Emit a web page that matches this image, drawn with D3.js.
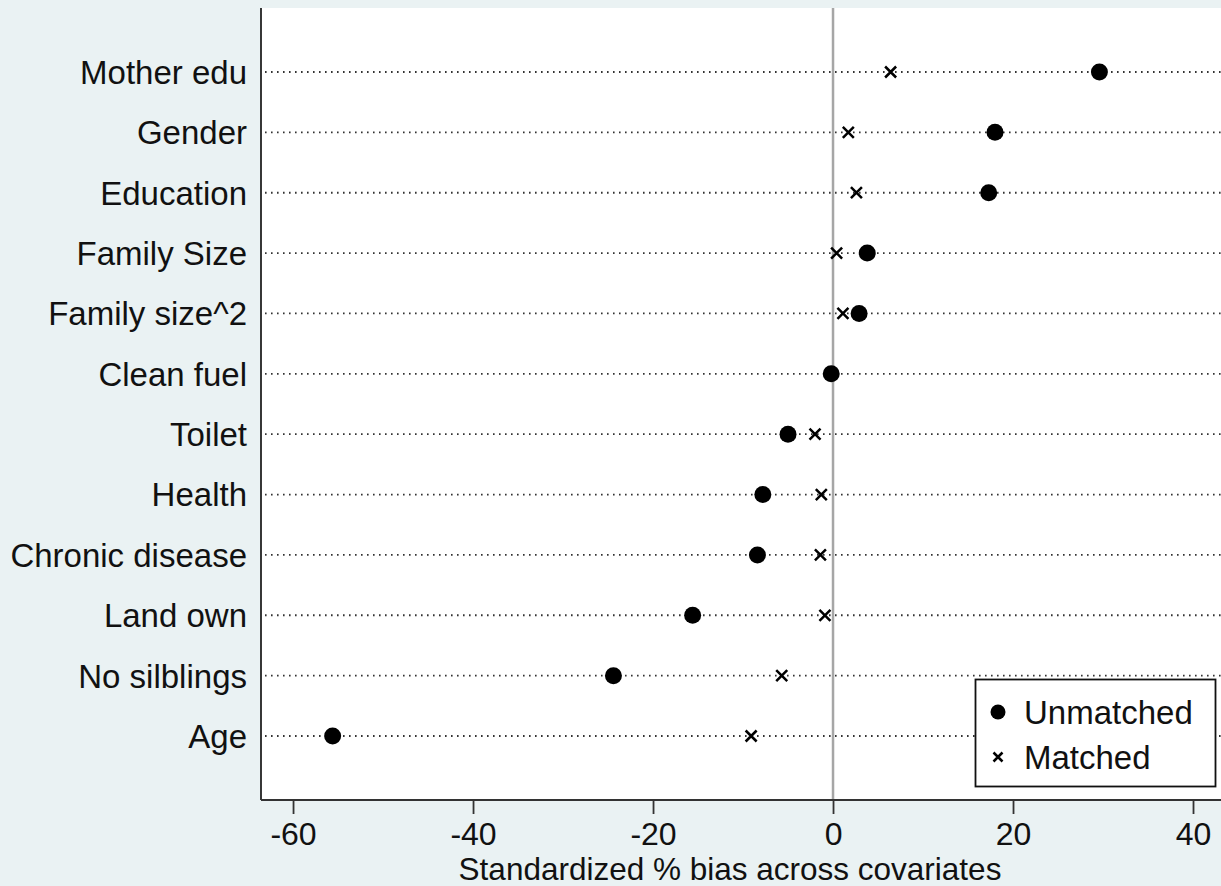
<!DOCTYPE html>
<html>
<head>
<meta charset="utf-8">
<script src="https://cdn.jsdelivr.net/npm/d3@7"></script>
<style>
  html, body { margin: 0; padding: 0; background: #eaf2f3; }
  svg { display: block; font-family: "Liberation Sans", Arial, sans-serif; }
</style>
</head>
<body>
<svg id="chart" width="1221" height="886"></svg>
<script>
// covariates, top to bottom
var covariates = ['Mother edu', 'Gender', 'Education', 'Family Size', 'Family size^2',
  'Clean fuel', 'Toilet', 'Health', 'Chronic disease', 'Land own', 'No silblings', 'Age'];
var unmatched = [29.6, 18.0, 17.3, 3.8, 2.9, -0.2, -5.0, -7.8, -8.4, -15.6, -24.4, -55.6];
var matched = [6.4, 1.7, 2.6, 0.4, 1.1, -0.2, -2.0, -1.3, -1.4, -0.9, -5.7, -9.1];
var xTicks = [-60, -40, -20, 0, 20, 40];
var legendLabels = ['Unmatched', 'Matched'];

var svg = d3.select('#chart');
var plot = { left: 261, right: 1221, top: 8, bottom: 800 };
var fontSize = 33;

var x = d3.scaleLinear()
    .domain([-63.56, 43.11])
    .range([plot.left, plot.right]);

var y = d3.scalePoint()
    .domain(covariates)
    .range([72, 736]);

// plot region
svg.append('rect')
    .attr('x', plot.left)
    .attr('y', plot.top)
    .attr('width', plot.right - plot.left)
    .attr('height', plot.bottom - plot.top)
    .attr('fill', '#ffffff');

// dotted guide lines
svg.append('g')
  .selectAll('line')
  .data(covariates)
  .join('line')
    .attr('x1', plot.left + 4)
    .attr('x2', plot.right)
    .attr('y1', d => y(d))
    .attr('y2', d => y(d))
    .attr('stroke', '#333')
    .attr('stroke-width', 1.8)
    .attr('stroke-dasharray', '1.6,4.4');

// zero line
svg.append('line')
    .attr('x1', x(0)).attr('x2', x(0))
    .attr('y1', plot.top).attr('y2', plot.bottom)
    .attr('stroke', '#a6a6a6')
    .attr('stroke-width', 2.5);

// y labels
svg.append('g')
  .selectAll('text')
  .data(covariates)
  .join('text')
    .attr('x', 247)
    .attr('y', d => y(d))
    .attr('dy', '0.36em')
    .attr('text-anchor', 'end')
    .attr('font-size', fontSize)
    .attr('fill', '#111')
    .text(d => d);

// left axis line
svg.append('line')
    .attr('x1', plot.left).attr('x2', plot.left)
    .attr('y1', plot.top).attr('y2', plot.bottom)
    .attr('stroke', '#222')
    .attr('stroke-width', 1.8);

// x axis
var xAxis = svg.append('g')
    .attr('transform', 'translate(0,' + plot.bottom + ')')
    .call(d3.axisBottom(x).tickValues(xTicks).tickFormat(d => String(d))
      .tickSize(14).tickPadding(8).tickSizeOuter(0));
xAxis.select('.domain')
    .attr('stroke', '#333')
    .attr('stroke-width', 2)
    .attr('d', 'M' + plot.left + ',0H' + plot.right);
xAxis.selectAll('.tick line').attr('stroke', '#333').attr('stroke-width', 1.8);
xAxis.selectAll('.tick text')
    .attr('font-size', 32)
    .attr('fill', '#111')
    .attr('font-family', '"Liberation Sans", Arial, sans-serif');

svg.append('text')
    .attr('x', 730)
    .attr('y', 880)
    .attr('text-anchor', 'middle')
    .attr('font-size', 31.5)
    .attr('fill', '#111')
    .text('Standardized % bias across covariates');

// markers
var cross = function (g, cx, cy, s) {
  g.append('path')
      .attr('d', 'M' + (cx - s) + ',' + (cy - s) + 'L' + (cx + s) + ',' + (cy + s) +
                 'M' + (cx - s) + ',' + (cy + s) + 'L' + (cx + s) + ',' + (cy - s))
      .attr('stroke', '#000')
      .attr('stroke-width', 2.5)
      .attr('fill', 'none');
};

var marks = svg.append('g');
covariates.forEach(function (c, i) {
  cross(marks, x(matched[i]), y(c), 5.5);
});
marks.selectAll('circle')
  .data(covariates)
  .join('circle')
    .attr('cx', (d, i) => x(unmatched[i]))
    .attr('cy', d => y(d))
    .attr('r', 8.5)
    .attr('fill', '#000');

// legend
var legend = svg.append('g');
legend.append('rect')
    .attr('x', 975.5).attr('y', 679.5)
    .attr('width', 240).attr('height', 107)
    .attr('fill', '#fff')
    .attr('stroke', '#111')
    .attr('stroke-width', 1.8);
legend.append('circle')
    .attr('cx', 998).attr('cy', 712).attr('r', 7.5).attr('fill', '#000');
cross(legend, 998, 757, 4.5);
legend.selectAll('text')
  .data(legendLabels)
  .join('text')
    .attr('x', 1024)
    .attr('y', (d, i) => 712 + i * 45)
    .attr('dy', '0.36em')
    .attr('font-size', fontSize)
    .attr('fill', '#111')
    .text(d => d);
</script>
</body>
</html>
